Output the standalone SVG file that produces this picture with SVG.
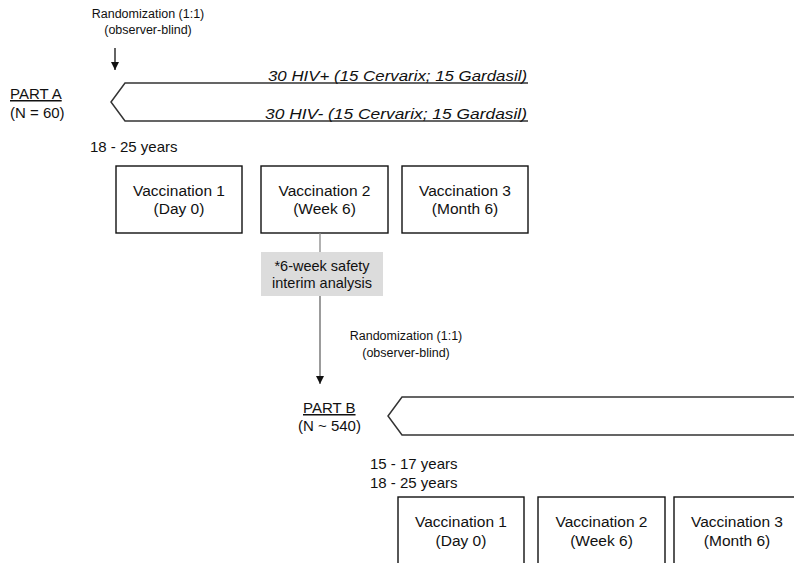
<svg xmlns="http://www.w3.org/2000/svg" width="794" height="563" viewBox="0 0 794 563">
<defs>
<style>
text{font-family:"Liberation Sans",Arial,sans-serif;fill:#111;}
.sm{font-size:12.5px;}
.md{font-size:15px;}
.bx{font-size:15.5px;}
.it{font-size:15.5px;font-style:italic;}
.box{fill:#fff;stroke:#111;stroke-width:1.4;}
.chev{fill:none;stroke:#333;stroke-width:1.5;}
.gline{stroke:#888;stroke-width:1.3;fill:none;}
.aline{stroke:#111;stroke-width:1.3;fill:none;}
</style>
<marker id="ah" viewBox="0 0 10 10" refX="10" refY="5" markerWidth="8" markerHeight="9" markerUnits="userSpaceOnUse" orient="auto">
<path d="M0,0 L10,5 L0,10 Z" fill="#111"/>
</marker>
</defs>

<g id="partA-random">
<text class="sm" x="148" y="18" text-anchor="middle">Randomization (1:1)</text>
<text class="sm" x="148" y="34" text-anchor="middle">(observer-blind)</text>
</g>

<g id="partA-label">
<text class="md" x="10" y="99" text-decoration="underline">PART A</text>
<text class="md" x="10" y="118">(N = 60)</text>
<text class="md" x="90" y="152">18 - 25 years</text>
</g>

<g id="partA-arms">
<polyline class="chev" points="528,83 125,83 111,102 125,121 528,121"/>
<text class="it" x="527" y="81" text-anchor="end" textLength="259" lengthAdjust="spacingAndGlyphs">30 HIV+ (15 Cervarix; 15 Gardasil)</text>
<text class="it" x="527" y="119" text-anchor="end" textLength="262" lengthAdjust="spacingAndGlyphs">30 HIV- (15 Cervarix; 15 Gardasil)</text>
</g>

<g id="a-vacc1">
<rect class="box" x="116" y="166" width="126" height="67"/>
<text class="bx" x="179" y="196" text-anchor="middle">Vaccination 1</text>
<text class="bx" x="179" y="214" text-anchor="middle">(Day 0)</text>
</g>
<g id="a-vacc2">
<rect class="box" x="261" y="166" width="127" height="67"/>
<text class="bx" x="324.5" y="196" text-anchor="middle">Vaccination 2</text>
<text class="bx" x="324.5" y="214" text-anchor="middle">(Week 6)</text>
</g>
<g id="a-vacc3">
<rect class="box" x="402" y="166" width="126" height="67"/>
<text class="bx" x="465" y="196" text-anchor="middle">Vaccination 3</text>
<text class="bx" x="465" y="214" text-anchor="middle">(Month 6)</text>
</g>

<g id="interim">
<rect x="261" y="252" width="122" height="44" fill="#dcdcdc"/>
<text class="md" x="322" y="271" text-anchor="middle" style="font-size:14.5px">*6-week safety</text>
<text class="md" x="322" y="288" text-anchor="middle" style="font-size:14.5px">interim analysis</text>
</g>

<g id="partB-random">
<text class="sm" x="406" y="340" text-anchor="middle">Randomization (1:1)</text>
<text class="sm" x="406" y="357" text-anchor="middle">(observer-blind)</text>
</g>

<g id="partB-label">
<text class="md" x="303" y="413" text-decoration="underline">PART B</text>
<text class="md" x="298" y="431">(N ~ 540)</text>
<text class="md" x="370" y="469">15 - 17 years</text>
<text class="md" x="370" y="488">18 - 25 years</text>
</g>

<g id="partB-arms">
<polyline class="chev" points="800,397 402,397 388,416 402,435 800,435"/>
</g>

<g id="b-vacc1">
<rect class="box" x="398" y="497" width="126" height="80"/>
<text class="bx" x="461" y="527" text-anchor="middle">Vaccination 1</text>
<text class="bx" x="461" y="546" text-anchor="middle">(Day 0)</text>
</g>
<g id="b-vacc2">
<rect class="box" x="538" y="497" width="127" height="80"/>
<text class="bx" x="601.5" y="527" text-anchor="middle">Vaccination 2</text>
<text class="bx" x="601.5" y="546" text-anchor="middle">(Week 6)</text>
</g>
<g id="b-vacc3">
<rect class="box" x="674" y="497" width="140" height="80"/>
<text class="bx" x="737" y="527" text-anchor="middle">Vaccination 3</text>
<text class="bx" x="737" y="546" text-anchor="middle">(Month 6)</text>
</g>

<g id="connectors">
<line class="aline" x1="115" y1="48" x2="115" y2="70" marker-end="url(#ah)"/>
<line class="gline" x1="320" y1="233" x2="320" y2="252"/>
<line class="aline" x1="320" y1="296" x2="320" y2="384" style="stroke:#666" marker-end="url(#ah)"/>
</g>
</svg>
